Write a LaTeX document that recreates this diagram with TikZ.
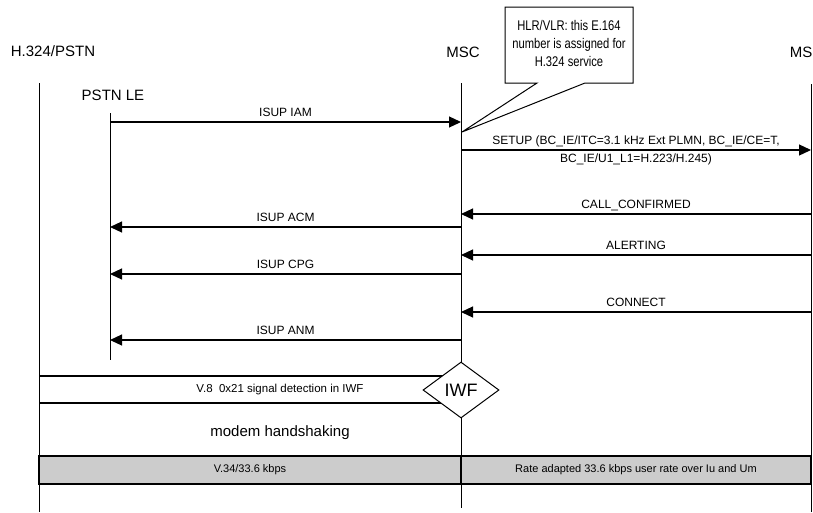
\documentclass[tikz,border=0pt]{standalone}
\usepackage{fontspec}
\setmainfont{Liberation Sans}
\newfontfamily\narrowfont{Liberation Sans}[FakeStretch=0.8]
\usetikzlibrary{positioning,arrows.meta,shapes.geometric}

\begin{document}
\begin{tikzpicture}[x=1pt,y=-1pt,
    head/.style={font=\fontsize{15}{18}\selectfont, inner sep=0pt},
    life/.style={line width=0.9pt},
    msg/.style={line width=1.2pt, -{Triangle[length=12pt,width=11pt]}},
    lbl/.style={font=\fontsize{12}{14}\selectfont, midway, above=5pt, inner sep=0pt, text depth=0pt},
    small/.style={font=\fontsize{11}{13}\selectfont, inner sep=0pt},
    band/.style={draw, line width=1.6pt, fill=black!20}]
    \useasboundingbox (0,0) rectangle (813,512);

    % entities
    \node[head] (H) at (53,51) {H.324/PSTN};
    \node[head] (LE) at (113,95) {PSTN LE};
    \node[head] (MSC) at (463,52) {MSC};
    \node[head, anchor=east] (MS) at (812.5,52) {MS};

    \coordinate (H-t) at (39,83);
    \coordinate (H-b) at (39,512);
    \coordinate (LE-t) at (110,113);
    \coordinate (LE-b) at (110,360);
    \coordinate (MSC-t) at (461,83);
    \coordinate (MSC-b) at (461,508);
    \coordinate (MS-t) at (811,84);
    \coordinate (MS-b) at (811,512);
    \draw[life]
        (H-t) -- (H-b)
        (LE-t) -- (LE-b)
        (MSC-t) -- (MSC-b)
        (MS-t) -- (MS-b);

    % note on the MSC
    \draw[line width=1pt, fill=white] (505,7) -- (633,7) -- (633,83) -- (585,83)
        -- (462,132) -- (537,83) -- (505,83) -- cycle;
    \node[align=center, inner sep=0pt, font={\narrowfont\fontsize{14}{18}\selectfont}] (note) at (569,43)
        {HLR/VLR: this E.164\\number is assigned for\\H.324 service};

    % messages
    \foreach \n/\a/\b/\y/\t in {iam/LE/MSC/122/ISUP IAM,
                                cc/MS/MSC/214/CALL\_CONFIRMED,
                                acm/MSC/LE/227/ISUP ACM,
                                alert/MS/MSC/255/ALERTING,
                                cpg/MSC/LE/274/ISUP CPG,
                                conn/MS/MSC/312/CONNECT,
                                anm/MSC/LE/340/ISUP ANM} {
        \coordinate (\n-s) at (\a-t |- 0,\y);
        \coordinate (\n-e) at (\b-t |- 0,\y);
        \draw[msg] (\n-s) -- node[lbl] {\t} (\n-e);
    }
    \coordinate (setup-s) at (MSC-t |- 0,150);
    \coordinate (setup-e) at (MS-t |- 0,150);
    \draw[msg] (setup-s) -- node[lbl] {SETUP (BC\_IE/ITC=3.1 kHz Ext PLMN, BC\_IE/CE=T,}
        node[lbl, below=3pt] {BC\_IE/U1\_L1=H.223/H.245)} (setup-e);

    % V.8 detection in the IWF
    \coordinate (v8-a) at (H-t |- 0,376);
    \coordinate (v8-b) at (H-t |- 0,403);
    \draw[line width=1.5pt]
        (v8-a) -- (MSC-t |- v8-a)
        (v8-b) -- (MSC-t |- v8-b);
    \node[draw, diamond, fill=white, line width=1pt, minimum width=76pt, minimum height=56pt,
        inner sep=0pt, font=\fontsize{18}{20}\selectfont] (IWF) at (461,390) {IWF};
    \node[small, font=\fontsize{11.5}{13}\selectfont] (V8) at (280,390) {V.8\ \ 0x21 signal detection in IWF};

    \node[head] (hs) at (280,433) {modem handshaking};

    % data phase
    \draw[band] (H-t |- 0,456) rectangle (MSC-t |- 0,484);
    \draw[band] (MSC-t |- 0,456) rectangle (MS-t |- 0,484);
    \node[small] (v34) at (250,470) {V.34/33.6 kbps};
    \node[small] (rate) at (636,470) {Rate adapted 33.6 kbps user rate over Iu and Um};
\end{tikzpicture}
\end{document}
